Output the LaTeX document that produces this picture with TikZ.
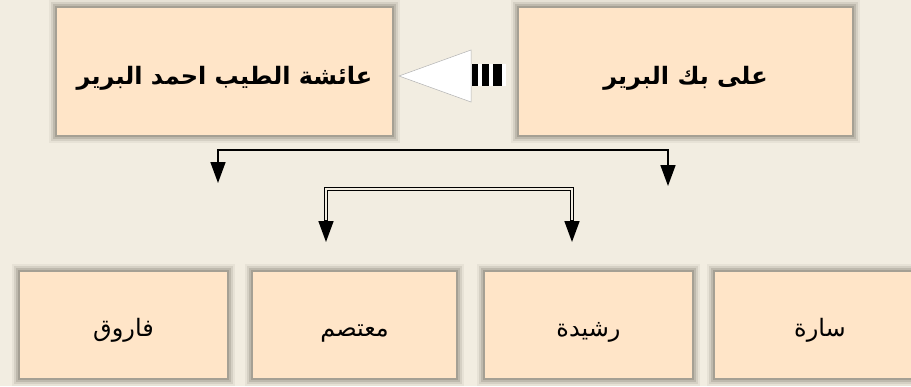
\documentclass[tikz,border=0pt]{standalone}
\usepackage{fontspec}
\newfontfamily\arabicfont[Script=Arabic]{DejaVu Sans}
\TeXXeTstate=1
\usetikzlibrary{arrows.meta}
\definecolor{bgcol}{HTML}{F2EDE1}
\definecolor{boxfill}{HTML}{FFE5C8}
\definecolor{shadowcol}{HTML}{6E685C}
\tikzset{
  x=1pt, y=-1pt,
  famborder/.style={
    preaction={draw=shadowcol, line width=16pt, opacity=0.08, xshift=-1pt, yshift=-1.5pt},
    preaction={draw=shadowcol, line width=12pt, opacity=0.14, xshift=-1pt, yshift=-1.5pt},
    preaction={draw=shadowcol, line width=8pt, opacity=0.22, xshift=-1pt, yshift=-1.5pt},
    preaction={draw=shadowcol, line width=4pt, opacity=0.30, xshift=-0.5pt, yshift=-1pt},
    fill=boxfill, draw=none, inner sep=0pt},
  parentbox/.style={famborder, minimum height=127pt},
  childbox/.style={famborder, minimum height=106pt},
  parenttext/.style={font=\arabicfont\bfseries\fontsize{24}{28}\selectfont, anchor=base},
  childtext/.style={font=\arabicfont\fontsize{24}{28}\selectfont, anchor=base},
  conn/.style={draw=black, line width=1.6pt},
  dblouter/.style={draw=black, line width=3.6pt},
  dblinner/.style={draw=bgcol, line width=1.4pt},
  tipline/.style={draw=black, line width=1.6pt, -{Triangle[width=15pt,length=21pt]}},
}
\begin{document}
\begin{tikzpicture}
\fill[bgcol] (0,0) rectangle (911,386);
\useasboundingbox (0,0) rectangle (911,386);

% parents
\node[parentbox, minimum width=335pt] (aisha) at (224.5,71.5) {};
\node[parentbox, minimum width=333pt] (ali) at (685.5,71.5) {};
\node[parenttext] (aishaT) at (224.5,84) {\beginR عائشة الطيب احمد البرير\endR};
\node[parenttext] (aliT) at (685.5,84) {\beginR على بك البرير\endR};

% children
\node[childbox, minimum width=207pt] (farouk) at (123.5,325) {};
\node[childbox, minimum width=203pt] (mutasim) at (354.5,325) {};
\node[childbox, minimum width=207pt] (rashida) at (588.5,325) {};
\node[childbox, minimum width=210pt] (sara) at (820,325) {};
\node[childtext] (faroukT) at (123.5,336) {\beginR فاروق\endR};
\node[childtext] (mutasimT) at (354.5,336) {\beginR معتصم\endR};
\node[childtext] (rashidaT) at (588.5,336) {\beginR رشيدة\endR};
\node[childtext] (saraT) at (820,336) {\beginR سارة\endR};

% big arrow from ali to aisha
\coordinate (tip) at (399,76);
\coordinate (baseT) at (471,50);
\coordinate (baseB) at (471,102);
\fill[white] (506,64) rectangle (471,86);
\fill[black] (471.7,64) rectangle (477.7,86);
\fill[black] (481.7,64) rectangle (489.3,86);
\fill[black] (493.3,64) rectangle (501.7,86);
\draw[draw=black!30, line width=0.5pt, fill=white] (tip) -- (baseT) -- (baseB) -- cycle;

% connector 1
\coordinate (c1l) at (218,150);
\coordinate (c1r) at (668,150);
\coordinate (c1lend) at (218,183);
\coordinate (c1rend) at (668,186);
\draw[conn] (218,166) -- (c1l) -- (c1r) -- (668,166);
\draw[tipline] (c1l) -- (c1lend);
\draw[tipline] (c1r) -- (c1rend);

% connector 2 (double line)
\coordinate (c2l) at (326,189);
\coordinate (c2r) at (572,189);
\coordinate (c2lend) at (326,242);
\coordinate (c2rend) at (572,242);
\draw[dblouter] (326,224) -- (c2l) -- (c2r) -- (572,224);
\draw[dblinner] (326,224) -- (c2l) -- (c2r) -- (572,224);
\draw[tipline] (326,220) -- (c2lend);
\draw[tipline] (572,220) -- (c2rend);
\end{tikzpicture}
\end{document}
